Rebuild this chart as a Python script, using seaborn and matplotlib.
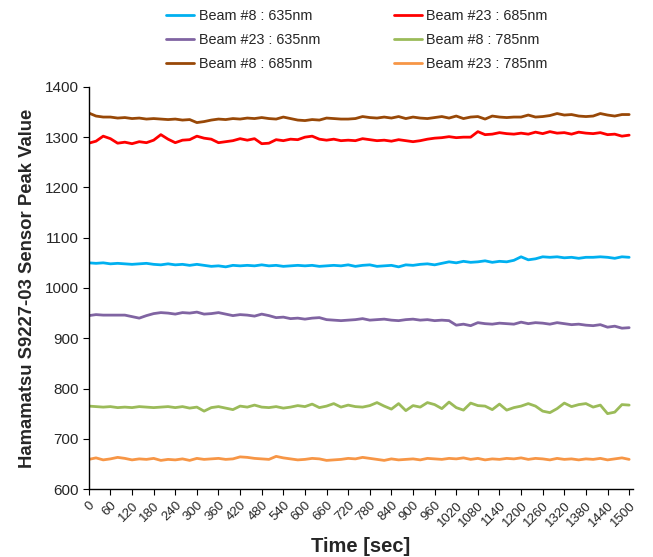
import numpy as np
import pandas as pd
import seaborn as sns
import matplotlib.pyplot as plt

# sample times, one reading every 20 s
time_sec = list(range(0, 1501, 20))

beam8_635 = [1050, 1049, 1050, 1048, 1049, 1048, 1047, 1048, 1049, 1047,
             1046, 1048, 1046, 1047, 1045, 1047, 1045, 1043, 1044, 1042,
             1045, 1044, 1045, 1044, 1046, 1044, 1045, 1043, 1044, 1045,
             1044, 1045, 1043, 1044, 1045, 1044, 1046, 1043, 1045, 1046,
             1043, 1044, 1045, 1042, 1046, 1045, 1047, 1048, 1046, 1049,
             1052, 1050, 1053, 1051, 1052, 1054, 1051, 1053, 1052, 1055,
             1062, 1056, 1058, 1062, 1061, 1062, 1060, 1061, 1059, 1061,
             1061, 1062, 1061, 1059, 1062, 1061]

beam23_635 = [945, 947, 946, 946, 946, 946, 943, 940, 945, 949,
              951, 950, 948, 951, 950, 952, 948, 949, 951, 948,
              945, 947, 946, 944, 948, 945, 941, 942, 939, 940,
              938, 940, 941, 937, 936, 935, 936, 937, 939, 936,
              937, 938, 936, 935, 937, 938, 936, 937, 935, 936,
              935, 926, 928, 925, 931, 929, 928, 930, 929, 928,
              932, 929, 931, 930, 928, 931, 929, 927, 928, 926,
              925, 927, 922, 924, 920, 921]

beam8_685 = [1348, 1342, 1340, 1340, 1338, 1339, 1337, 1338, 1336, 1337,
             1336, 1335, 1336, 1334, 1335, 1329, 1331, 1334, 1336, 1335,
             1337, 1336, 1338, 1337, 1339, 1337, 1336, 1340, 1337, 1334,
             1333, 1335, 1334, 1338, 1337, 1336, 1336, 1337, 1341, 1339,
             1338, 1340, 1338, 1341, 1337, 1340, 1338, 1337, 1339, 1341,
             1338, 1342, 1337, 1340, 1341, 1336, 1342, 1340, 1339, 1340,
             1340, 1344, 1340, 1341, 1343, 1347, 1344, 1345, 1342, 1341,
             1342, 1347, 1344, 1342, 1345, 1345]

beam23_685 = [1288, 1292, 1302, 1297, 1288, 1290, 1287, 1291, 1289, 1294,
              1305, 1296, 1289, 1294, 1295, 1302, 1298, 1296, 1289, 1291,
              1293, 1297, 1294, 1297, 1287, 1288, 1295, 1293, 1296, 1295,
              1300, 1302, 1296, 1294, 1296, 1293, 1294, 1293, 1297, 1295,
              1293, 1294, 1292, 1295, 1293, 1291, 1293, 1296, 1298, 1299,
              1301, 1299, 1300, 1300, 1311, 1305, 1306, 1309, 1307, 1306,
              1308, 1306, 1310, 1307, 1311, 1308, 1309, 1306, 1310, 1308,
              1307, 1309, 1305, 1306, 1302, 1304]

beam8_785 = [765, 764, 763, 764, 762, 763, 762, 764, 763, 762,
             763, 764, 762, 764, 761, 763, 755, 762, 764, 761,
             758, 765, 763, 767, 763, 762, 764, 761, 763, 766,
             764, 769, 762, 765, 770, 763, 767, 764, 763, 766,
             772, 765, 759, 770, 756, 766, 763, 772, 768, 760,
             773, 762, 757, 771, 766, 765, 758, 769, 757, 762,
             765, 770, 765, 755, 752, 760, 771, 764, 768, 770,
             763, 767, 750, 753, 768, 767]

beam23_785 = [659, 662, 658, 660, 663, 661, 658, 660, 659, 661,
              657, 659, 658, 660, 657, 661, 659, 660, 661, 659,
              660, 664, 663, 661, 660, 659, 665, 662, 660, 658,
              659, 661, 660, 657, 658, 659, 661, 660, 663, 661,
              659, 657, 660, 658, 659, 660, 658, 661, 660, 659,
              661, 660, 662, 659, 661, 658, 660, 659, 661, 660,
              662, 659, 661, 660, 658, 661, 659, 660, 658, 660,
              659, 661, 658, 660, 662, 659]

series_names = ['Beam #8 : 635nm', 'Beam #23 : 635nm', 'Beam #8 : 685nm',
                'Beam #23 : 685nm', 'Beam #8 : 785nm', 'Beam #23 : 785nm']
series_vals = [beam8_635, beam23_635, beam8_685, beam23_685, beam8_785, beam23_785]
colors = ['#00B0F0', '#8064A2', '#984807', '#FF0000', '#9BBB59', '#F79646']
x_ticks = list(range(0, 1501, 60))

# long-form table for seaborn
frames = []
for name, vals in zip(series_names, series_vals):
    frames.append(pd.DataFrame({'Time': time_sec, 'Value': vals, 'Beam': name}))
df = pd.concat(frames, ignore_index=True)

sns.set_style('ticks')
plt.rcParams['font.family'] = ['Liberation Sans', 'DejaVu Sans']

fig = plt.figure(figsize=(6.53, 5.57), dpi=100)
ax = fig.add_axes([0.136, 0.122, 0.833, 0.722])

sns.lineplot(data=df, x='Time', y='Value', hue='Beam', hue_order=series_names,
             palette=colors, linewidth=2, ax=ax)

ax.set_xlim(0, 1510)
ax.set_ylim(600, 1400)
ax.set_xticks(x_ticks)
ax.set_xticklabels([str(t) for t in x_ticks], rotation=45, ha='right',
                   rotation_mode='anchor', fontsize=9.5)
ax.set_yticks(range(600, 1401, 100))
ax.tick_params(axis='y', labelsize=11, length=4, color='black')
ax.tick_params(axis='x', length=4, color='black')
sns.despine(ax=ax)
for s in ['left', 'bottom']:
    ax.spines[s].set_color('black')
    ax.spines[s].set_linewidth(1)

ax.set_xlabel('Time [sec]', fontsize=14.5, fontweight='bold', labelpad=6)
ax.set_ylabel('Hamamatsu S9227-03 Sensor Peak Value', fontsize=13.3,
              fontweight='bold', labelpad=6)

sns.move_legend(ax, loc='upper center', bbox_to_anchor=(0.493, 1.226),
                ncol=2, frameon=False, title=None, fontsize=10.4,
                handlelength=1.95, columnspacing=5.1, labelspacing=0.68,
                handletextpad=0.3)

plt.savefig('out.png', dpi=100)
plt.close()
